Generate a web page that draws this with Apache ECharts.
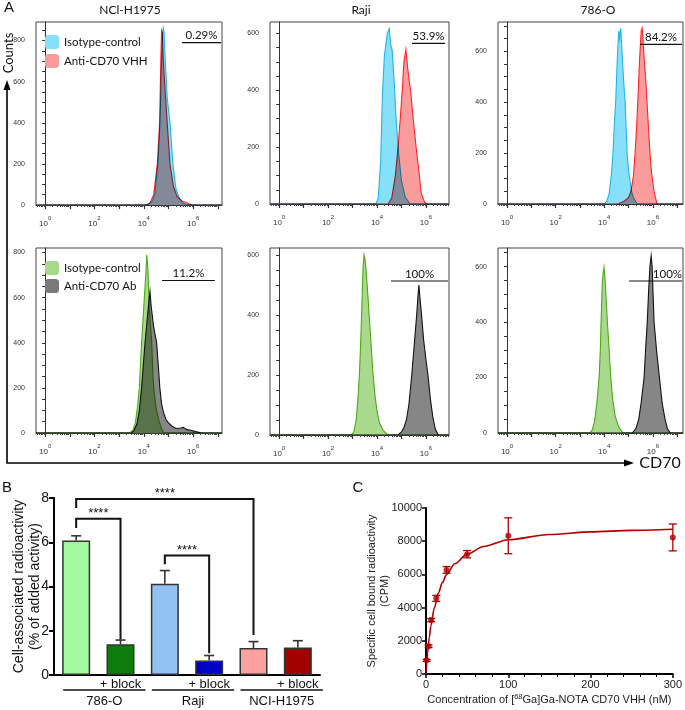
<!DOCTYPE html>
<html><head><meta charset="utf-8">
<script src="https://cdn.jsdelivr.net/npm/echarts@6/dist/echarts.min.js"></script>
<style>html,body{margin:0;padding:0;background:#fff}#c{width:685px;height:710px}
#c canvas:not(:first-child){mix-blend-mode:multiply}</style>
</head><body><div id="c"></div>
<script>
// ================= Panel A : flow cytometry histograms =================
// x in log10 decades of CD70 fluorescence, y in counts
const cellLines = ['NCl-H1975', 'Raji', '786-O'];
const decadeLabels = [0, 2, 4, 6];
const decadeMajor = [0, 1, 2, 3, 4, 5, 6, 7];
const yLabelsTop = [[0, 200, 400, 600, 800], [0, 200, 400, 600], [0, 200, 400, 600]];
const yLabelsBottom = [[0, 200, 400, 600, 800], [0, 200, 400, 600], [0, 200, 400, 600]];
const yMaxTop = [890, 640, 715];
const yMaxBottom = [820, 623, 667];
const xMinDecade = -0.37;
const xMaxDecade = [7.17, 6.94, 7.24];

// Top row: Isotype-control vs Anti-CD70 VHH
const vhhIsoH1975 = [[-0.4,0],[4.0,0],[4.2,5],[4.35,20],[4.45,50],[4.57,200],[4.66,400],[4.72,700],[4.76,820],[4.79,860],[4.82,840],[4.87,700],[4.95,520],[5.06,400],[5.18,200],[5.3,80],[5.45,30],[5.6,8],[5.75,0],[7.3,0]];
const vhhH1975 = [[-0.4,0],[4.1,0],[4.25,10],[4.4,50],[4.55,200],[4.64,400],[4.69,700],[4.72,850],[4.75,840],[4.79,700],[4.86,560],[4.96,380],[5.06,200],[5.2,90],[5.35,40],[5.55,20],[5.75,10],[5.95,0],[7.3,0]];
const vhhIsoRaji = [[-0.4,0],[3.95,0],[4.05,20],[4.15,150],[4.22,380],[4.3,520],[4.42,600],[4.5,617],[4.56,560],[4.62,540],[4.7,430],[4.78,300],[4.88,180],[5.0,80],[5.15,25],[5.35,0],[7.3,0]];
const vhhRaji = [[-0.4,0],[4.45,0],[4.6,20],[4.75,100],[4.86,200],[4.95,300],[5.03,400],[5.1,500],[5.18,544],[5.25,480],[5.32,430],[5.37,400],[5.5,280],[5.62,180],[5.72,110],[5.8,40],[5.95,5],[6.05,0],[7.3,0]];
const vhhIso786 = [[-0.4,0],[4.0,0],[4.1,10],[4.2,40],[4.3,120],[4.36,200],[4.42,320],[4.47,400],[4.55,600],[4.6,680],[4.63,650],[4.68,690],[4.73,600],[4.8,480],[4.86,400],[4.9,300],[4.94,200],[5.0,130],[5.05,100],[5.12,50],[5.2,25],[5.35,0],[7.3,0]];
const vhh786 = [[-0.4,0],[4.55,0],[4.8,10],[5.0,25],[5.1,50],[5.2,110],[5.27,200],[5.33,300],[5.38,400],[5.45,560],[5.52,680],[5.56,691],[5.6,640],[5.65,560],[5.7,500],[5.76,400],[5.82,300],[5.88,200],[5.95,120],[6.05,50],[6.17,0],[7.3,0]];

// Bottom row: Isotype-control vs Anti-CD70 Ab
const abIsoH1975 = [[-0.4,0],[3.4,0],[3.55,10],[3.65,40],[3.75,120],[3.82,200],[3.91,400],[4.0,560],[4.08,700],[4.12,790],[4.17,720],[4.22,560],[4.32,400],[4.37,250],[4.42,180],[4.5,110],[4.6,60],[4.7,25],[4.8,0],[7.3,0]];
const abH1975 = [[-0.4,0],[3.5,0],[3.6,10],[3.72,40],[3.82,100],[3.91,200],[4.0,330],[4.05,400],[4.15,520],[4.22,600],[4.25,627],[4.3,560],[4.4,470],[4.52,400],[4.6,280],[4.65,200],[4.72,130],[4.8,90],[4.9,60],[5.0,45],[5.15,30],[5.3,20],[5.5,22],[5.6,25],[5.75,15],[5.9,12],[6.1,6],[6.35,0],[7.3,0]];
const abIsoRaji = [[-0.4,0],[2.95,0],[3.05,10],[3.15,50],[3.22,120],[3.28,200],[3.33,300],[3.37,400],[3.43,560],[3.47,600],[3.52,580],[3.58,520],[3.64,450],[3.68,400],[3.76,300],[3.84,200],[3.92,130],[4.0,80],[4.1,40],[4.25,15],[4.45,0],[7.3,0]];
const abRaji = [[-0.4,0],[4.85,0],[5.0,10],[5.1,25],[5.2,50],[5.3,100],[5.42,200],[5.5,280],[5.58,360],[5.62,400],[5.67,460],[5.71,500],[5.75,460],[5.82,400],[5.9,320],[6.0,250],[6.08,200],[6.18,120],[6.28,60],[6.38,20],[6.5,0],[7.3,0]];
const abIso786 = [[-0.4,0],[3.4,0],[3.5,10],[3.6,40],[3.7,110],[3.79,200],[3.84,300],[3.87,400],[3.92,540],[3.96,580],[3.99,598],[4.03,560],[4.08,480],[4.13,400],[4.2,300],[4.27,200],[4.35,120],[4.45,60],[4.6,20],[4.77,0],[7.3,0]];
const ab786 = [[-0.4,0],[5.15,0],[5.3,15],[5.42,50],[5.52,110],[5.64,200],[5.7,300],[5.77,400],[5.83,520],[5.88,600],[5.93,639],[5.97,600],[6.01,500],[6.05,400],[6.15,300],[6.27,200],[6.38,110],[6.5,50],[6.6,15],[6.72,0],[7.3,0]];

// Positive gates (from decade, to decade, drawn at count level) and their percentages
const gateLabels = ['0.29%', '53.9%', '84.2%', '11.2%', '100%', '100%'];
const gateFrom = [5.55, 5.43, 5.47, 4.74, 4.57, 5.02];
const gateTo = [7.13, 6.78, 7.2, 6.88, 6.9, 7.2];
const gateLevel = [790, 565, 627, 676, 513, 548];

// ================= Panel B : cell binding =================
const bGroups = ['786-O', 'Raji', 'NCI-H1975'];
const bCategories = ['786-O', '786-O + block', 'Raji', 'Raji + block', 'NCI-H1975', 'NCI-H1975 + block'];
const bMeans = [6.08, 1.39, 4.12, 0.65, 1.22, 1.24];
const bSD = [0.21, 0.19, 0.60, 0.23, 0.29, 0.31];
// significance brackets: [from category, to category, bracket level, left end, right end]
const bBrackets = [[0, 1, 7.06, 6.64, 1.62], [0, 4, 7.95, 7.55, 1.81], [2, 3, 5.40, 5.01, 0.98]];
const bBracketLabels = ['****', '****', '****'];

// ================= Panel C : saturation binding =================
const cConc = [0.78, 3.125, 6.25, 12.5, 25, 50, 100, 300];
const cCPM = [827, 1673, 3246, 4556, 6270, 7218, 8327, 8226];
const cSD = [60, 80, 100, 180, 200, 220, 1080, 810];
const fitConc = [0, 1, 2, 4, 6, 10, 15, 20, 25, 35, 50, 70, 100, 150, 200, 250, 300];
const fitCPM = [0, 670, 1260, 2210, 2920, 3960, 4880, 5520, 6000, 6640, 7220, 7680, 8090, 8400, 8560, 8650, 8720];

// ======================================================================
const FLOW_FONT = 'Lato';
const ARIAL = 'Liberation Sans';
const cyanFill = '#86e0fa', cyanLine = '#22b4e6';
const redFill = '#fa9c9c', redLine = '#ff2626';
const greenFill = '#a9d98c', greenLine = '#4fa61a';
const greyFill = '#868686', greyLine = '#111111';

const histGrids = [
  {left: 36, top: 22, width: 186, height: 183},
  {left: 270, top: 22, width: 179, height: 182},
  {left: 498, top: 22, width: 185, height: 182},
  {left: 36, top: 248, width: 186, height: 185},
  {left: 270, top: 248, width: 179, height: 187},
  {left: 498, top: 248, width: 185, height: 185}
];
const histPairs = [
  [vhhIsoH1975, vhhH1975], [vhhIsoRaji, vhhRaji], [vhhIso786, vhh786],
  [abIsoH1975, abH1975], [abIsoRaji, abRaji], [abIso786, ab786]
];
const gateRightAligned = {5: true};

const grid = [], xAxis = [], yAxis = [], series = [];
histGrids.forEach((g, i) => {
  grid.push(Object.assign({show: true, borderColor: '#444', borderWidth: 1}, g));
  const top = i < 3;
  const xmax = xMaxDecade[i % 3];
  const ymax = top ? yMaxTop[i] : yMaxBottom[i - 3];
  const ylabs = top ? yLabelsTop[i] : yLabelsBottom[i - 3];
  const yminor = [];
  for (let v = 0; v <= ymax; v += 50) yminor.push(v);
  const minorLog = [];
  for (let d = -1; d <= 7; d++) for (let k = 2; k <= 9; k++) {
    const v = d + Math.log10(k);
    if (v > xMinDecade && v < xmax) minorLog.push(v);
  }
  xAxis.push({
    type: 'value', gridIndex: i, min: xMinDecade, max: xmax, position: 'bottom',
    axisLine: {show: true, onZero: false, lineStyle: {color: '#333', width: 1}},
    axisTick: {show: true, customValues: decadeMajor.filter(v => v < xmax), length: 4, lineStyle: {color: '#333', width: 1.2}},
    axisLabel: {
      show: true, customValues: decadeLabels, margin: 10,
      formatter: v => '{b|10}{s|' + v + '}',
      rich: {
        b: {fontFamily: ARIAL, fontSize: 8, color: '#333', lineHeight: 13, verticalAlign: 'bottom'},
        s: {fontFamily: ARIAL, fontSize: 6, color: '#333', lineHeight: 13, verticalAlign: 'top'}
      }
    },
    splitLine: {show: false}
  });
  xAxis.push({
    type: 'value', gridIndex: i, min: xMinDecade, max: xmax, position: 'bottom',
    axisLine: {show: false}, axisLabel: {show: false}, splitLine: {show: false},
    axisTick: {show: true, customValues: minorLog, length: 2, lineStyle: {color: '#444', width: 1}}
  });
  yAxis.push({
    type: 'value', gridIndex: i, min: 0, max: ymax,
    axisLine: {show: true, lineStyle: {color: '#333', width: 1}},
    axisTick: {show: true, customValues: yminor, length: 3, lineStyle: {color: '#333', width: 1}},
    axisLabel: {show: true, customValues: ylabs, fontFamily: ARIAL, fontSize: 7, color: '#333', margin: 11},
    splitLine: {show: false}
  });
  const fills = top ? [cyanFill, redFill] : [greenFill, greyFill];
  const lines = top ? [cyanLine, redLine] : [greenLine, greyLine];
  const names = top ? ['Isotype-control', 'Anti-CD70 VHH'] : ['Isotype-control (Ab)', 'Anti-CD70 Ab'];
  histPairs[i].forEach((pts, k) => {
    series.push({
      type: 'custom', name: names[k], xAxisIndex: 2 * i, yAxisIndex: i,
      data: pts, encode: {x: 0, y: 1}, silent: true, clip: true, z: 2 + k, zlevel: k,
      itemStyle: {color: fills[k]},
      renderItem(params, api) {
        if (params.dataIndex !== 0) return null;
        const p = pts.map(d => api.coord(d));
        return {type: 'group', children: [
          {type: 'polygon', shape: {points: p}, style: {fill: fills[k]}},
          {type: 'polyline', shape: {points: p}, style: {stroke: lines[k], lineWidth: 1.1, fill: null}}
        ]};
      }
    });
  });
  // gate
  series.push({
    type: 'custom', name: 'gate' + i, xAxisIndex: 2 * i, yAxisIndex: i, silent: true, z: 6,
    data: [[gateFrom[i], gateLevel[i]], [gateTo[i], gateLevel[i]]], encode: {x: 0, y: 1},
    renderItem(params, api) {
      if (params.dataIndex !== 0) return null;
      const a = api.coord([gateFrom[i], gateLevel[i]]);
      const b = api.coord([gateTo[i], gateLevel[i]]);
      const r = !!gateRightAligned[i];
      return {type: 'group', children: [
        {type: 'line', shape: {x1: a[0], y1: a[1], x2: b[0], y2: b[1]}, style: {stroke: '#111', lineWidth: 1.2}},
        {type: 'text', x: r ? b[0] : (a[0] + b[0]) / 2, y: a[1] - 1,
          style: {text: gateLabels[i], fontFamily: FLOW_FONT, fontSize: 11.5, fill: '#111',
            align: r ? 'right' : 'center', verticalAlign: 'bottom'}}
      ]};
    }
  });
});

// ---------- Panel B ----------
const gB = grid.length;
grid.push({left: 54, top: 498, width: 266, height: 177, show: false});
const xB = xAxis.length, yB = yAxis.length;
const bColors = ['#a4fa9e', '#0c7c0c', '#93c1f4', '#0202c4', '#fda0a0', '#a00202'];
xAxis.push({
  type: 'category', gridIndex: gB, data: bCategories,
  axisLine: {show: true, lineStyle: {color: '#000', width: 2}},
  axisTick: {show: false},
  axisLabel: {interval: 0, margin: 3, fontFamily: ARIAL, fontSize: 13, color: '#111',
    formatter: (v, idx) => (idx % 2 === 1 ? '+ block' : '')}
});
yAxis.push({
  type: 'value', gridIndex: gB, min: 0, max: 8, interval: 2,
  axisLine: {show: true, lineStyle: {color: '#000', width: 2}},
  axisTick: {show: true, length: 5, lineStyle: {color: '#000', width: 2}},
  axisLabel: {fontFamily: ARIAL, fontSize: 14, color: '#111', margin: 5},
  splitLine: {show: false},
  name: 'Cell-associated radioactivity\n(% of added activity)', nameLocation: 'middle', nameGap: 11,
  nameMoveOverlap: false,
  nameTextStyle: {fontFamily: ARIAL, fontSize: 14, color: '#111', lineHeight: 16}
});
series.push({
  type: 'bar', xAxisIndex: xB, yAxisIndex: yB, barWidth: 28, silent: true,
  data: bMeans.map((v, i) => ({value: v, itemStyle: {color: bColors[i]}})),
  itemStyle: {borderColor: '#333', borderWidth: 1.5}
});
series.push({
  type: 'custom', xAxisIndex: xB, yAxisIndex: yB, silent: true, z: 5,
  data: bMeans.map((m, i) => [i, m + bSD[i]]),
  renderItem(params, api) {
    const i = params.dataIndex;
    const a = api.coord([i, bMeans[i]]), b = api.coord([i, bMeans[i] + bSD[i]]);
    return {type: 'group', children: [
      {type: 'line', shape: {x1: a[0], y1: a[1], x2: b[0], y2: b[1]}, style: {stroke: '#333', lineWidth: 1.6}},
      {type: 'line', shape: {x1: b[0] - 5, y1: b[1], x2: b[0] + 5, y2: b[1]}, style: {stroke: '#333', lineWidth: 1.6}}
    ]};
  }
});
series.push({
  type: 'custom', xAxisIndex: xB, yAxisIndex: yB, silent: true, z: 5,
  data: bBrackets.map(b => [b[0], b[2]]),
  renderItem(params, api) {
    const br = bBrackets[params.dataIndex];
    const lt = api.coord([br[0], br[2]]), rt = api.coord([br[1], br[2]]);
    const lb = api.coord([br[0], br[3]]), rb = api.coord([br[1], br[4]]);
    return {type: 'group', children: [
      {type: 'polyline', shape: {points: [lb, lt, rt, rb]}, style: {stroke: '#111', lineWidth: 2, fill: null}},
      {type: 'text', x: (lt[0] + rt[0]) / 2, y: lt[1] + 1,
        style: {text: bBracketLabels[params.dataIndex], fontFamily: ARIAL, fontSize: 13, fill: '#111', align: 'center', verticalAlign: 'bottom'}}
    ]};
  }
});
series.push({
  type: 'custom', xAxisIndex: xB, yAxisIndex: yB, silent: true,
  data: bGroups.map((g, k) => [2 * k, 0]),
  renderItem(params, api) {
    const k = params.dataIndex;
    const a = api.coord([2 * k, 0]), b = api.coord([2 * k + 1, 0]);
    const x1 = a[0] - 13, x2 = b[0] + 25, y = a[1] + 15;
    return {type: 'group', children: [
      {type: 'line', shape: {x1, y1: y, x2, y2: y}, style: {stroke: '#111', lineWidth: 1.5}},
      {type: 'text', x: (x1 + x2) / 2, y: y + 5,
        style: {text: bGroups[k], fontFamily: ARIAL, fontSize: 13, fill: '#111', align: 'center', verticalAlign: 'top'}}
    ]};
  }
});

// ---------- Panel C ----------
const gC = grid.length;
grid.push({left: 426, top: 508, width: 247, height: 166, show: false});
const xC = xAxis.length, yC = yAxis.length;
xAxis.push({
  type: 'value', gridIndex: gC, min: 0, max: 300, interval: 100,
  axisLine: {show: true, onZero: false, lineStyle: {color: '#000', width: 2}},
  axisTick: {show: true, length: 4, lineStyle: {color: '#000', width: 1.5}},
  minorTick: {show: true, splitNumber: 5, length: 3, lineStyle: {color: '#000', width: 1}},
  axisLabel: {fontFamily: ARIAL, fontSize: 11, color: '#222', margin: 5},
  splitLine: {show: false},
  name: 'Concentration of [{s|68}Ga]Ga-NOTA CD70 VHH (nM)', nameLocation: 'middle', nameGap: 19,
  nameMoveOverlap: false,
  nameTextStyle: {fontFamily: ARIAL, fontSize: 11, color: '#222', lineHeight: 13,
    rich: {s: {fontFamily: ARIAL, fontSize: 7.5, color: '#222', verticalAlign: 'top', lineHeight: 13}}}
});
yAxis.push({
  type: 'value', gridIndex: gC, min: 0, max: 10000, interval: 2000,
  axisLine: {show: true, lineStyle: {color: '#000', width: 2}},
  axisTick: {show: true, length: 4, lineStyle: {color: '#000', width: 1.5}},
  axisLabel: {fontFamily: ARIAL, fontSize: 11, color: '#222', margin: 4, formatter: v => String(v)},
  splitLine: {show: false},
  name: 'Specific cell bound radioactivity\n(CPM)', nameLocation: 'middle', nameGap: 35,
  nameMoveOverlap: false,
  nameTextStyle: {fontFamily: ARIAL, fontSize: 11, color: '#222', lineHeight: 13}
});
series.push({
  type: 'line', xAxisIndex: xC, yAxisIndex: yC, silent: true, smooth: 0.3, smoothMonotone: 'x',
  showSymbol: false, data: fitConc.map((x, i) => [x, fitCPM[i]]),
  lineStyle: {color: '#b00000', width: 1.6}
});
series.push({
  type: 'custom', xAxisIndex: xC, yAxisIndex: yC, silent: true, z: 4,
  data: cConc.map((x, i) => [x, cCPM[i]]),
  renderItem(params, api) {
    const i = params.dataIndex;
    const t = api.coord([cConc[i], cCPM[i] + cSD[i]]), b = api.coord([cConc[i], cCPM[i] - cSD[i]]);
    return {type: 'group', children: [
      {type: 'line', shape: {x1: t[0], y1: t[1], x2: b[0], y2: b[1]}, style: {stroke: '#b00000', lineWidth: 1.3}},
      {type: 'line', shape: {x1: t[0] - 4, y1: t[1], x2: t[0] + 4, y2: t[1]}, style: {stroke: '#b00000', lineWidth: 1.3}},
      {type: 'line', shape: {x1: b[0] - 4, y1: b[1], x2: b[0] + 4, y2: b[1]}, style: {stroke: '#b00000', lineWidth: 1.3}}
    ]};
  }
});
series.push({
  type: 'scatter', xAxisIndex: xC, yAxisIndex: yC, silent: true, z: 5,
  symbol: 'circle', symbolSize: 6, itemStyle: {color: '#b00000'},
  data: cConc.map((x, i) => [x, cCPM[i]])
});

// ---------- decorations ----------
const txt = (x, y, text, font) => ({type: 'text', x, y, silent: true,
  style: {text, font, fill: '#111', align: 'center', verticalAlign: 'middle',
    textAlign: 'center', textVerticalAlign: 'middle'}});
const graphic = [
  txt(9, 8, 'A', '15px "Liberation Sans"'),
  txt(7, 488, 'B', '15px "Liberation Sans"'),
  txt(358, 488, 'C', '15px "Liberation Sans"'),
  txt(130, 10, cellLines[0], '12px Lato'),
  txt(361, 10, cellLines[1], '12px Lato'),
  txt(598, 10, cellLines[2], '12px Lato'),
  Object.assign(txt(9, 53, 'Counts', '13px Lato'), {rotation: Math.PI / 2}),
  txt(660, 463, 'CD70', '16px Lato'),
  {type: 'polyline', silent: true, shape: {points: [[7, 88], [7, 463], [626, 463]]}, style: {stroke: '#000', lineWidth: 1.6, fill: null}},
  {type: 'polygon', silent: true, shape: {points: [[7, 80], [3.5, 90], [10.5, 90]]}, style: {fill: '#000'}},
  {type: 'polygon', silent: true, shape: {points: [[634, 463], [624, 459.5], [624, 466.5]]}, style: {fill: '#000'}}
];

const legendText = {fontFamily: FLOW_FONT, fontSize: 11.5, color: '#111'};
const option = {
  backgroundColor: '#fff',
  animation: false,
  grid, xAxis, yAxis, series, graphic,
  legend: [
    {left: 40, top: 30, orient: 'vertical', itemWidth: 14, itemHeight: 14, itemGap: 5, icon: 'roundRect',
      selectedMode: false, textStyle: legendText,
      data: [{name: 'Isotype-control', itemStyle: {color: cyanFill}}, {name: 'Anti-CD70 VHH', itemStyle: {color: redFill}}]},
    {left: 40, top: 256, orient: 'vertical', itemWidth: 14, itemHeight: 14, itemGap: 4, icon: 'roundRect',
      selectedMode: false, textStyle: legendText,
      formatter: n => n === 'Isotype-control (Ab)' ? 'Isotype-control' : n,
      data: [{name: 'Isotype-control (Ab)', itemStyle: {color: greenFill}}, {name: 'Anti-CD70 Ab', itemStyle: {color: '#7a7a7a'}}]}
  ]
};
const chart = echarts.init(document.getElementById('c'));
chart.setOption(option);
</script>
</body></html>
